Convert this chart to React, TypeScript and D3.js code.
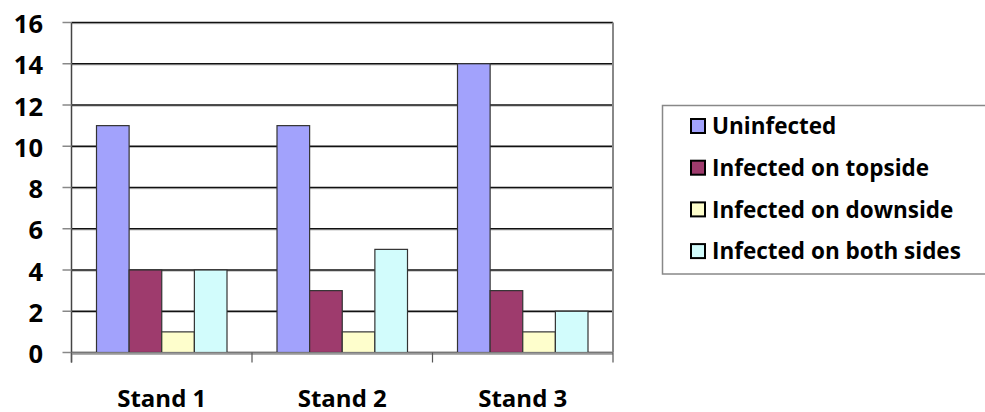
import React from "react";
import * as d3 from "d3";

const categories = ["Stand 1", "Stand 2", "Stand 3"];
const seriesNames = ["Uninfected", "Infected on topside", "Infected on downside", "Infected on both sides"];
const uninfected = [11, 11, 14];
const topside = [4, 3, 3];
const downside = [1, 1, 1];
const bothSides = [4, 5, 2];
const yTicks = [0, 2, 4, 6, 8, 10, 12, 14, 16];
const colors = ["#a2a2fc", "#9e3b6d", "#fefecc", "#d2fcfc"];

const W = 985;
const H = 412;
const left = 71.5;
const right = 613;
const top = 22.5;
const bottom = 352.5;
const FONT = "'Open Sans', Lato, sans-serif";

export default function App() {
  const series = [uninfected, topside, downside, bothSides];
  const x0 = d3.scaleBand<string>().domain(categories).range([left, right]).paddingInner(0).paddingOuter(0);
  const groupPad = 25;
  const x1 = d3
    .scaleBand<number>()
    .domain(d3.range(series.length))
    .range([0, x0.bandwidth() - 2 * groupPad])
    .padding(0);
  const y = d3.scaleLinear().domain([0, 16]).range([bottom, top]);

  const boundaries = [left, ...categories.map((c) => (x0(c) as number) + x0.bandwidth())];

  return (
    <div style={{ position: "fixed", left: 0, top: 0, width: W, height: H, overflow: "hidden" }}>
      <svg width={W} height={H} style={{ display: "block", background: "#fff" }}>
        {/* gridlines */}
        {yTicks.map((t) => (
          <g key={"g" + t}>
            <line x1={left} x2={right} y1={y(t) + 1.2} y2={y(t) + 1.2} stroke="#bbb" strokeWidth={1} />
            <line x1={left} x2={right} y1={y(t)} y2={y(t)} stroke="#111" strokeWidth={1.4} />
          </g>
        ))}
        {/* right border */}
        <line x1={right} x2={right} y1={top} y2={bottom} stroke="#888" strokeWidth={2} />
        {/* bars */}
        {categories.map((c, ci) =>
          series.map((s, si) => {
            const bx = (x0(c) as number) + groupPad + (x1(si) as number);
            return (
              <rect
                key={c + si}
                x={bx}
                y={y(s[ci])}
                width={x1.bandwidth()}
                height={bottom - y(s[ci])}
                fill={colors[si]}
                stroke="#333"
                strokeWidth={1.2}
              />
            );
          })
        )}
        {/* y axis */}
        <line x1={left} x2={left} y1={top} y2={bottom + 10} stroke="#444" strokeWidth={1.5} />
        {yTicks.map((t) => (
          <g key={"t" + t}>
            <line x1={left - 9} x2={left} y1={y(t)} y2={y(t)} stroke="#888" strokeWidth={1.5} />
            <text
              x={43}
              y={y(t) + 1.5}
              dy="0.36em"
              textAnchor="end"
              fontFamily={FONT}
              fontWeight="bold"
              fontSize={25.5}
              fill="#000"
            >
              {t}
            </text>
          </g>
        ))}
        {/* x axis */}
        <line x1={left} x2={right} y1={bottom + 1} y2={bottom + 1} stroke="#999" strokeWidth={2.5} />
        {boundaries.map((b, i) => (
          <line key={"b" + i} x1={b} x2={b} y1={bottom} y2={bottom + 10} stroke="#555" strokeWidth={1.2} />
        ))}
        {categories.map((c) => (
          <text
            key={"l" + c}
            x={(x0(c) as number) + x0.bandwidth() / 2}
            y={406.5}
            textAnchor="middle"
            fontFamily={FONT}
            fontWeight="bold"
            fontSize={24}
            fill="#000"
          >
            {c}
          </text>
        ))}
        {/* legend */}
        <rect x={662.5} y={105.5} width={330} height={168.5} fill="#fff" stroke="#888" strokeWidth={1.5} />
        {seriesNames.map((n, i) => {
          const cy = 126 + i * 41.7;
          return (
            <g key={"lg" + n}>
              <rect x={691} y={cy - 7} width={14} height={14} fill={colors[i]} stroke="#000" strokeWidth={2} />
              <text x={712} y={cy} dy="0.36em" fontFamily={FONT} fontWeight="bold" fontSize={22.5} fill="#000">
                {n}
              </text>
            </g>
          );
        })}
      </svg>
    </div>
  );
}
